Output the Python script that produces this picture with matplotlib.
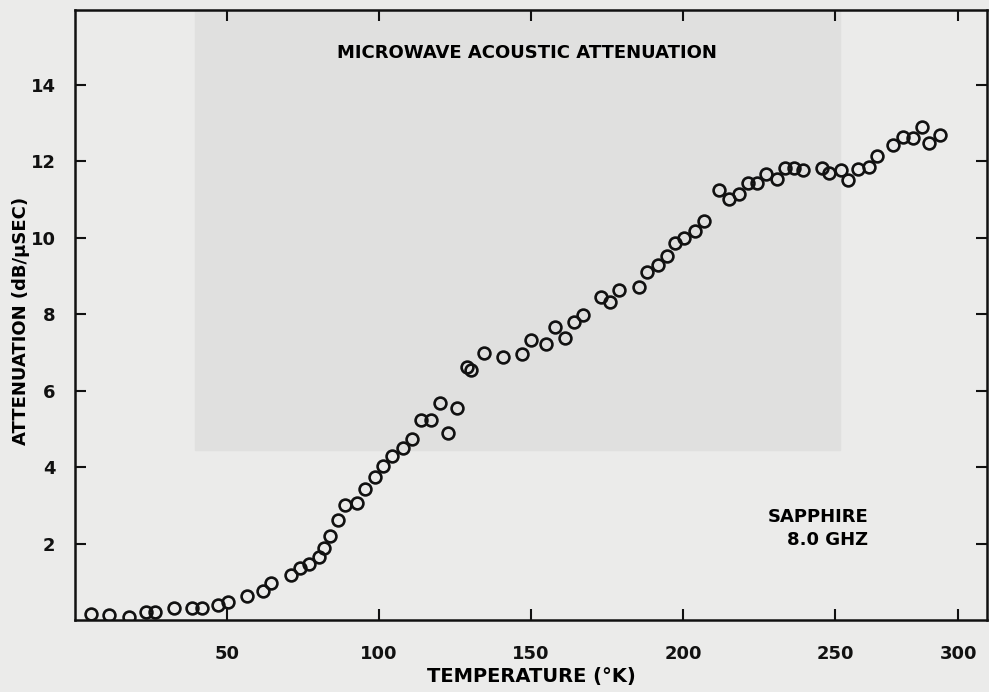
import matplotlib.pyplot as plt
from matplotlib.patches import Rectangle

# temperature (K) and attenuation (dB/usec)
temp = [5.3, 11.2, 17.7, 23.4, 26.3, 32.6, 38.5, 41.8, 47.0, 50.3,
        56.6, 61.8, 64.5, 71.0, 74.0, 77.0, 80.3, 82.0, 83.9, 86.5,
        88.9, 92.8, 95.4, 98.6, 101.4, 104.3, 107.8, 110.8, 113.8, 117.1,
        120.0, 122.7, 125.7, 129.0, 130.3, 134.5, 140.8, 147.0, 150.0, 154.9,
        157.9, 161.2, 164.1, 167.1, 173.0, 176.0, 179.0, 185.5, 188.2, 191.8,
        194.7, 197.4, 200.3, 204.0, 206.9, 211.8, 215.1, 218.4, 221.4, 224.3,
        227.3, 230.9, 233.6, 236.5, 239.5, 245.7, 248.0, 252.0, 254.3, 257.6,
        261.2, 263.8, 269.0, 272.4, 275.7, 278.6, 281.0, 284.5]
atten = [0.16, 0.13, 0.08, 0.21, 0.21, 0.31, 0.31, 0.31, 0.39, 0.47,
         0.63, 0.76, 0.97, 1.18, 1.36, 1.46, 1.65, 1.88, 2.20, 2.61,
         3.00, 3.06, 3.42, 3.74, 4.02, 4.29, 4.50, 4.73, 5.23, 5.23,
         5.67, 4.89, 5.54, 6.61, 6.54, 6.98, 6.88, 6.95, 7.32, 7.22,
         7.66, 7.37, 7.79, 7.97, 8.44, 8.31, 8.63, 8.70, 9.10, 9.28,
         9.52, 9.86, 10.00, 10.17, 10.43, 11.24, 11.00, 11.14, 11.42, 11.42,
         11.66, 11.53, 11.82, 11.82, 11.76, 11.82, 11.68, 11.76, 11.50, 11.79,
         11.84, 12.13, 12.42, 12.63, 12.60, 12.89, 12.47, 12.68]

xtick_pos = [50, 100, 150, 200, 250, 290.5]   # the "300" tick sits short on the original
xtick_lab = ["50", "100", "150", "200", "250", "300"]
ytick_pos = [2, 4, 6, 8, 10, 12, 14]

plt.rcParams["font.family"] = "DejaVu Sans"
plt.rcParams["font.weight"] = "bold"

fig = plt.figure(figsize=(9.89, 6.92), dpi=100)
fig.patch.set_facecolor("#ebebea")

ax = fig.add_axes([75/989, 72/692, 912/989, 610/692])
ax.set_facecolor("#ebebea")
# darker photographed page behind the plot in the scan
ax.add_patch(Rectangle((195/989, 1-450/692), 645/989, 440/692,
                       transform=fig.transFigure, color="#e0e0df", zorder=0.5,
                       clip_on=False))

ax.plot(temp, atten, linestyle="none", marker="o", ms=8.5,
        mfc="none", mec="#111111", mew=1.9, zorder=3)

ax.set_xlim(0, 300)
ax.set_ylim(0, 15.95)
ax.set_xticks(xtick_pos, xtick_lab)
ax.set_yticks(ytick_pos)
ax.tick_params(direction="in", length=8, width=1.5, top=True, right=True,
               labelsize=13, colors="#111111")
ax.tick_params(axis="x", pad=18)
ax.tick_params(axis="y", pad=14)
for s in ax.spines.values():
    s.set_linewidth(1.8)
    s.set_color("#111111")
    s.set_zorder(4)

ax.set_xlabel("TEMPERATURE (°K)", fontsize=14, fontweight="bold", labelpad=3)
ax.set_ylabel("ATTENUATION (dB/μSEC)", fontsize=13, fontweight="bold")
ax.yaxis.set_label_coords(-0.049, 0.49)
ax.text(0.496, 0.93, "MICROWAVE ACOUSTIC ATTENUATION", transform=ax.transAxes,
        ha="center", va="center", fontsize=13, fontweight="bold", zorder=5)
ax.text(0.87, 0.15, "SAPPHIRE\n8.0 GHZ", transform=ax.transAxes,
        ha="right", va="center", fontsize=13, fontweight="bold", linespacing=1.3,
        multialignment="right", zorder=5)

plt.savefig("out.png", dpi=100, facecolor=fig.get_facecolor())
